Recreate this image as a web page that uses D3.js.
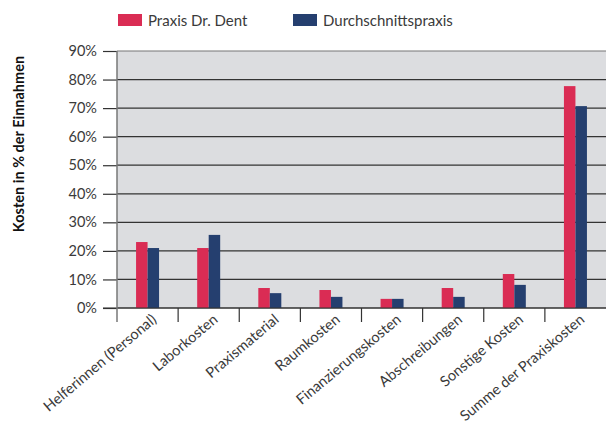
<!DOCTYPE html>
<html><head><meta charset="utf-8">
<script src="https://cdn.jsdelivr.net/npm/d3@7"></script>
<style>body{margin:0;background:#fff}svg{display:block}text{font-family:Lato,"Open Sans",sans-serif}</style>
</head><body>
<svg id="c" width="606" height="424"></svg>
<script>
const categories = ["Helferinnen (Personal)","Laborkosten","Praxismaterial","Raumkosten","Finanzierungskosten","Abschreibungen","Sonstige Kosten","Summe der Praxiskosten"];
const seriesNames = ["Praxis Dr. Dent","Durchschnittspraxis"];
const praxisDent = [23.1, 21.0, 7.0, 6.3, 3.2, 7.0, 11.9, 77.7];
const durchschnitt = [21.0, 25.6, 5.2, 3.9, 3.2, 3.9, 8.1, 70.7];
const yTicks = [0,10,20,30,40,50,60,70,80,90];
const colors = ["#da2c54","#253f6f"];

const svg = d3.select("#c");
const L=117, R=606, T=51, B=308;
const x = d3.scaleBand().domain(categories).range([L,R]);
const y = d3.scaleLinear().domain([0,90]).range([B,T]);
const x1 = d3.scaleBand().domain(seriesNames).range([0, 23]);
const off = (x.bandwidth()-23)/2;

svg.append("rect").attr("x",L).attr("y",T).attr("width",R-L).attr("height",B-T).attr("fill","#dcdde0");

// gridlines + y ticks
const ya = svg.append("g").attr("transform",`translate(${L},0)`)
  .call(d3.axisLeft(y).tickValues(yTicks).tickFormat(d=>d+"%").tickSize(14).tickPadding(6));
ya.select(".domain").remove();
ya.selectAll(".tick line").attr("stroke","#333").attr("stroke-width",1.2);
ya.selectAll(".tick text").attr("fill","#3a3a3a").style("font-size","14.5px");
svg.append("g").selectAll("line").data(yTicks).join("line")
  .attr("x1",L).attr("x2",R).attr("y1",d=>y(d)).attr("y2",d=>y(d))
  .attr("stroke",d=>d===90?"#777":"#333").attr("stroke-width",1.2);

// bars
const data = categories.map((c,i)=>({c, v:[praxisDent[i], durchschnitt[i]]}));
const g = svg.append("g").selectAll("g").data(data).join("g")
  .attr("transform",d=>`translate(${x(d.c)+off},0)`);
g.selectAll("rect").data(d=>d.v.map((v,j)=>({v,s:seriesNames[j],j}))).join("rect")
  .attr("x",d=>x1(d.s)).attr("width",x1.bandwidth())
  .attr("y",d=>y(d.v)).attr("height",d=>B-y(d.v)).attr("fill",d=>colors[d.j]);

// x axis
const xa = svg.append("g").attr("transform",`translate(0,${B})`)
  .call(d3.axisBottom(x).tickSize(0).tickFormat(""));
xa.select(".domain").remove();
svg.append("line").attr("x1",L-14).attr("x2",R).attr("y1",B).attr("y2",B).attr("stroke","#333").attr("stroke-width",1.2);
svg.append("line").attr("x1",L).attr("x2",L).attr("y1",T).attr("y2",B+14).attr("stroke","#777").attr("stroke-width",1.5);
svg.append("g").selectAll("line").data(categories.slice(1)).join("line")
  .attr("x1",d=>x(d)).attr("x2",d=>x(d)).attr("y1",B).attr("y2",B+14).attr("stroke","#333").attr("stroke-width",1.2);
svg.append("g").selectAll("text").data(categories).join("text")
  .attr("transform",d=>`translate(${x(d)+x.bandwidth()/2+10},${B+13}) rotate(-40)`)
  .attr("text-anchor","end").attr("fill","#3a3a3a").style("font-size","14.6px").text(d=>d);

// y title
svg.append("text").attr("transform","translate(24,144) rotate(-90)").attr("text-anchor","middle")
  .style("font-size","14.5px").style("font-weight","bold").attr("fill","#111").text("Kosten in % der Einnahmen");

// legend
const lg = svg.append("g").selectAll("g").data(seriesNames).join("g")
  .attr("transform",(d,i)=>`translate(${[118,293][i]},14)`);
lg.append("rect").attr("width",24).attr("height",12).attr("fill",(d,i)=>colors[i]);
lg.append("text").attr("x",30).attr("y",12).attr("fill","#3a3a3a").style("font-size","15px").text(d=>d);
</script></body></html>
